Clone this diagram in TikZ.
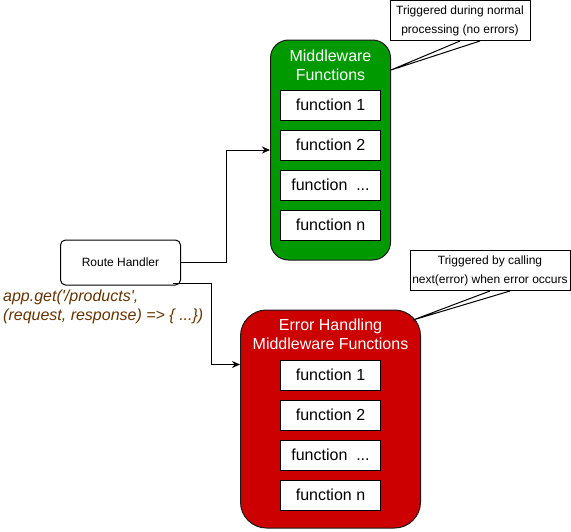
\documentclass[tikz,border=0pt]{standalone}
\usepackage{fontspec}
\setmainfont{Liberation Sans}
\newfontfamily\codefont{Liberation Sans}
\usetikzlibrary{arrows.meta,calc}
\definecolor{mwgreen}{HTML}{009900}
\definecolor{errred}{HTML}{CC0000}
\definecolor{codebrown}{HTML}{663300}
\definecolor{edgedark}{HTML}{1A1A1A}
\begin{document}
\begin{tikzpicture}[x=1pt,y=-1pt,
  container/.style={draw=edgedark,line width=1pt,minimum width=#1,inner sep=0pt},
  titletext/.style={text=white,align=center,font=\fontsize{16}{19}\selectfont,inner sep=0pt},
  fbox/.style={draw=black,fill=white,line width=1pt,minimum width=100pt,minimum height=30pt,inner sep=0pt,font=\fontsize{16}{19}\selectfont},
  rhbox/.style={draw=black,fill=white,line width=1pt,rounded corners=5pt,minimum width=120pt,minimum height=45pt,inner sep=0pt,font=\fontsize{12}{14}\selectfont},
  callbox/.style={draw=black,fill=white,line width=1pt,minimum height=40pt,inner sep=0pt,align=center,font=\fontsize{12}{19}\selectfont},
  tail/.style={draw=black,line width=1pt},
  conn/.style={draw=black,line width=1pt},
  arr/.style={conn,-{Stealth[length=8pt,width=7pt,inset=2.5pt]}},
  codetext/.style={text=codebrown,align=left,inner sep=0pt,font=\codefont\itshape\fontsize{16}{19}\selectfont}
]
\useasboundingbox (0,0) rectangle (571,531);
% Middleware container
\node[container=120pt,fill=mwgreen,minimum height=220pt,rounded corners=18pt] (mw) at (330.5,150) {};
\node[titletext] (mwt) at (330.5,65.5) {Middleware\\Functions};
\node[fbox] (f1) at (330.5,105) {function 1};
\node[fbox] (f2) at (330.5,145) {function 2};
\node[fbox] (f3) at (330.5,185) {function\ \ ...};
\node[fbox] (f4) at (330.5,225) {function n};
% Error container
\node[container=180pt,fill=errred,minimum height=218pt,rounded corners=26pt] (err) at (330.5,419) {};
\node[titletext] (errt) at (330.5,334.5) {Error Handling\\Middleware Functions};
\node[fbox] (e1) at (330.5,375) {function 1};
\node[fbox] (e2) at (330.5,415) {function 2};
\node[fbox] (e3) at (330.5,455) {function\ \ ...};
\node[fbox] (e4) at (330.5,495) {function n};
% Route handler
\node[rhbox] (rh) at (120.5,262.5) {Route Handler};
\node[codetext,anchor=west] (code) at (3,306.5) {app.get('/products',\\(request, response) => \{ ...\})};
% Callouts
\node[callbox,minimum width=140pt] (c1) at (460,20.5) {Triggered during normal\\processing (no errors)};
\coordinate (t1) at (391,70);
\draw[tail] (c1.south) -- (t1) -- ($(c1.south)+(20,0)$);
\node[callbox,minimum width=160pt] (c2) at (490,270.5) {Triggered by calling\\next(error) when error occurs};
\coordinate (t2) at (413,320);
\draw[tail] (c2.south) -- (t2) -- ($(c2.south)+(20,0)$);
% Connectors
\draw[arr] (rh.east) -- ++(45,0) |- (mw.west);
\coordinate (s2) at ($(rh.south east)+(-8,-2)$);
\coordinate (d2) at ($(err.north west)+(0,55)$);
\draw[arr] (s2) -- ++(38.5,0) |- (d2);
\end{tikzpicture}
\end{document}
